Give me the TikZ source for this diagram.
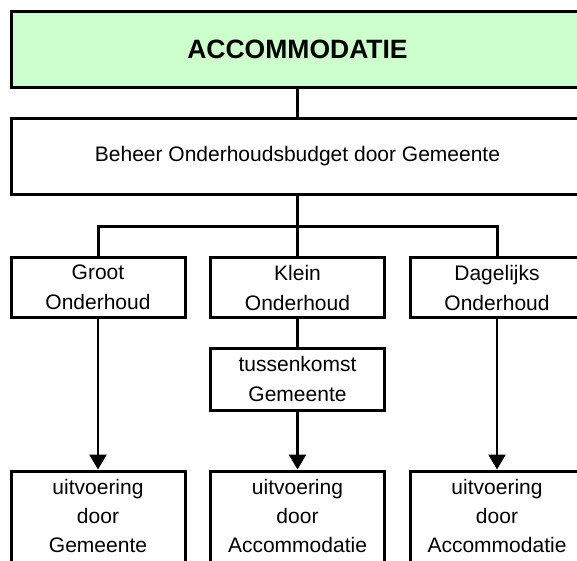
\documentclass[tikz,border=0pt]{standalone}
\usepackage{fontspec}
\setmainfont{Liberation Sans}
\usetikzlibrary{arrows.meta}
\definecolor{accgreen}{RGB}{204,255,204}
\begin{document}
\begin{tikzpicture}[x=1pt,y=-1pt,
  box/.style={draw,line width=3pt,align=center,inner sep=0pt,font=\fontsize{21}{30}\selectfont},
  col/.style={box,minimum width=174,minimum height=60},
  low/.style={box,minimum width=174,minimum height=110,text depth=21,font=\fontsize{21}{29}\selectfont},
  link/.style={line width=3pt},
  arr/.style={line width=2.5pt,-{Triangle[length=15pt,width=17pt]}}]
  \useasboundingbox (0,0) rectangle (577,560);
  \clip (0,0) rectangle (577,560);
  % top of the chart
  \node[box,minimum width=573,minimum height=76,fill=accgreen,font=\fontsize{26.5}{30}\selectfont\bfseries] (acc) at (297.5,49.5) {ACCOMMODATIE};
  \node[box,minimum width=573,minimum height=76] (beheer) at (297.5,156.5) {Beheer Onderhoudsbudget door Gemeente};
  \coordinate (split) at (297.5,226);
  % three kinds of maintenance
  \node[col] (groot) at (98,287.5) {Groot\\Onderhoud};
  \node[col] (klein) at (297.5,287.5) {Klein\\Onderhoud};
  \node[col] (dag) at (497,287.5) {Dagelijks\\Onderhoud};
  \node[col,minimum height=61.5] (tuss) at (297.5,379.25) {tussenkomst\\Gemeente};
  \node[low] (uitg) at (98,526) {uitvoering\\door\\Gemeente};
  \node[low] (uitk) at (297.5,526) {uitvoering\\door\\Accommodatie};
  \node[low] (uitd) at (497,526) {uitvoering\\door\\Accommodatie};
  \draw[link] (acc) -- (beheer);
  \draw[link] (beheer) -- (klein);
  \draw[link] (groot.north) |- (split) -| (dag.north);
  \draw[link] (klein) -- (tuss);
  \draw[arr] (groot) -- (uitg);
  \draw[arr] (tuss) -- (uitk);
  \draw[arr] (dag) -- (uitd);
\end{tikzpicture}
\end{document}
